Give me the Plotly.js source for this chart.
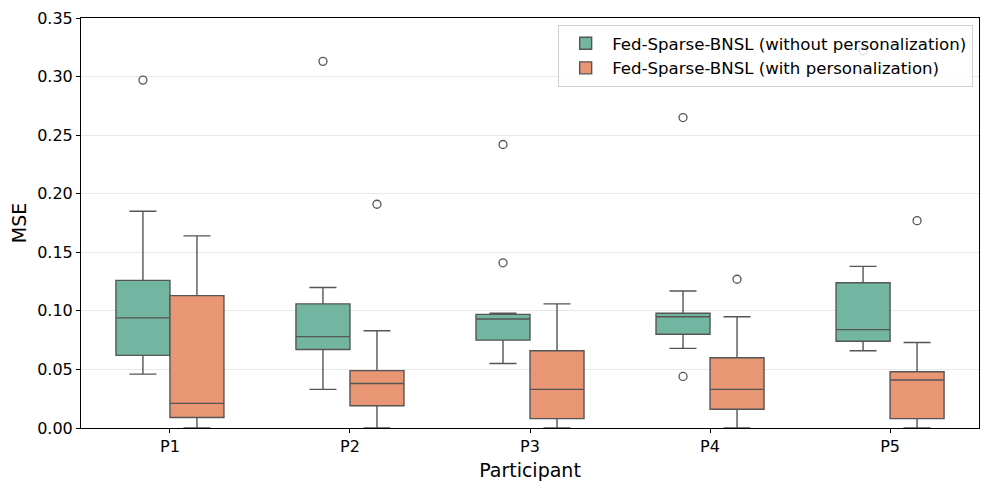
<!DOCTYPE html>
<html>
<head>
<meta charset="utf-8">
<script src="https://cdn.plot.ly/plotly-3.0.1.min.js"></script>
<style>html,body{margin:0;padding:0;background:#fff;}#chart{width:989px;height:490px;}</style>
</head>
<body>
<div id="chart"></div>
<script>
const categories = ["P1", "P2", "P3", "P4", "P5"];
const seriesNames = ["Fed-Sparse-BNSL (without personalization)", "Fed-Sparse-BNSL (with personalization)"];

// without personalization
const lowWithout = [0.046, 0.033, 0.055, 0.068, 0.066];
const q1Without = [0.062, 0.067, 0.075, 0.080, 0.074];
const medWithout = [0.094, 0.078, 0.093, 0.095, 0.084];
const q3Without = [0.126, 0.106, 0.097, 0.098, 0.124];
const highWithout = [0.185, 0.120, 0.098, 0.117, 0.138];
const outWithout = [[0.297], [0.313], [0.242, 0.141], [0.265, 0.044], [0.322]];

// with personalization
const lowWith = [0.0, 0.0, 0.0, 0.0, 0.0];
const q1With = [0.009, 0.019, 0.008, 0.016, 0.008];
const medWith = [0.021, 0.038, 0.033, 0.033, 0.041];
const q3With = [0.113, 0.049, 0.066, 0.060, 0.048];
const highWith = [0.164, 0.083, 0.106, 0.095, 0.073];
const outWith = [[], [0.191], [], [0.127], [0.177]];

const colors = ["#72b6a1", "#e99675"];
const edge = "#555555";
const offset = 0.15;
const boxW = 0.3;

function boxTrace(name, color, off, low, q1, med, q3, high) {
  return {
    type: "box",
    name: name,
    x: categories.map((c, i) => i + off),
    lowerfence: low, q1: q1, median: med, q3: q3, upperfence: high,
    width: boxW,
    whiskerwidth: 0.5,
    fillcolor: color,
    line: {color: edge, width: 1.4},
    boxpoints: false,
    hoverinfo: "skip",
    showlegend: true
  };
}
function outTrace(outs, off) {
  const xs = [], ys = [];
  outs.forEach((arr, i) => arr.forEach(v => { xs.push(i + off); ys.push(v); }));
  return {
    type: "scatter", mode: "markers", x: xs, y: ys, showlegend: false, hoverinfo: "skip",
    marker: {symbol: "circle-open", size: 8, color: edge, line: {width: 1.3, color: edge}}
  };
}

const data = [
  boxTrace(seriesNames[0], colors[0], -offset, lowWithout, q1Without, medWithout, q3Without, highWithout),
  boxTrace(seriesNames[1], colors[1], offset, lowWith, q1With, medWith, q3With, highWith),
  outTrace(outWithout, -offset),
  outTrace(outWith, offset)
];

const layout = {
  width: 989, height: 490,
  margin: {l: 81, r: 10, t: 18, b: 62},
  paper_bgcolor: "#fff", plot_bgcolor: "#fff",
  font: {family: "DejaVu Sans", color: "#000", size: 16},
  showlegend: true,
  legend: {
    x: 0.9935, xanchor: "right", y: 0.983, yanchor: "top",
    bgcolor: "rgba(255,255,255,0.8)", bordercolor: "#d0d0d0", borderwidth: 1,
    font: {family: "DejaVu Sans", size: 16.6, color: "#000"},
    itemwidth: 43,
    tracegroupgap: 0
  },
  xaxis: {
    range: [-0.494, 4.494],
    tickmode: "array", tickvals: categories.map((c, i) => i), ticktext: categories,
    showgrid: false, zeroline: false,
    showline: true, mirror: true, linecolor: "#000", linewidth: 1,
    ticks: "outside", ticklen: 4, tickcolor: "#000",
    tickfont: {size: 16},
    title: {text: "Participant", font: {size: 19}, standoff: 8}
  },
  yaxis: {
    range: [0, 0.35], dtick: 0.05, tickformat: ".2f",
    showgrid: true, gridcolor: "#e8e8e8", gridwidth: 1, zeroline: false,
    showline: true, mirror: true, linecolor: "#000", linewidth: 1,
    ticks: "outside", ticklen: 4, tickcolor: "#000",
    tickfont: {size: 16},
    title: {text: "MSE", font: {size: 19}, standoff: 5}
  }
};

Plotly.newPlot("chart", data, layout, {displayModeBar: false, staticPlot: true});
</script>
</body>
</html>
